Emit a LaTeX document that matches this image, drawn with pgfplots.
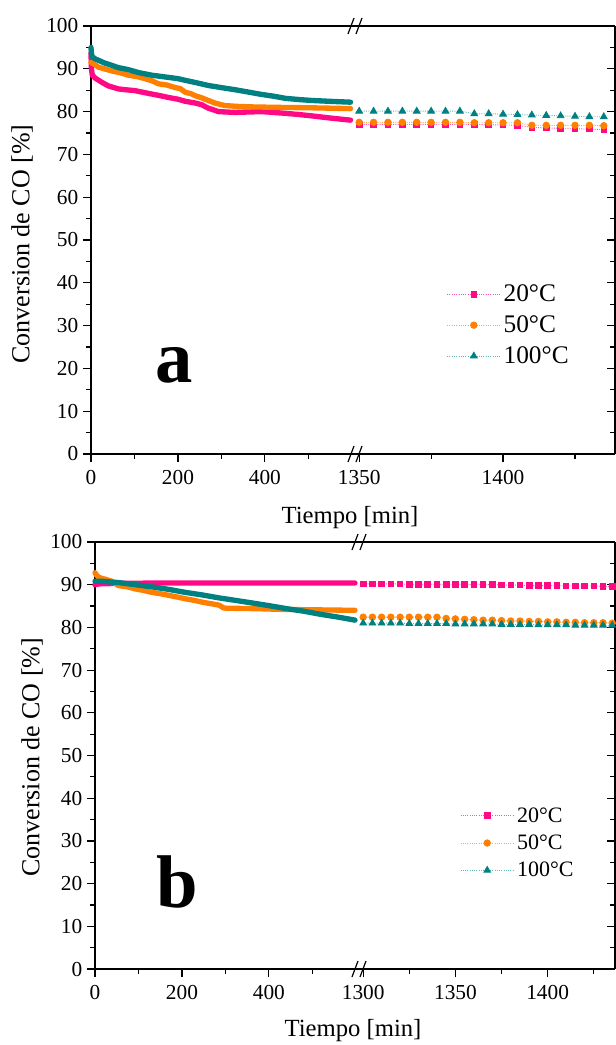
\documentclass[border=0pt]{standalone}
\usepackage{fontspec}
\setmainfont{Liberation Serif}
\usepackage{pgfplots}
\pgfplotsset{compat=1.18}
\usetikzlibrary{calc}
\definecolor{cpink}{HTML}{FF0A84}
\definecolor{corange}{HTML}{FF8000}
\definecolor{cteal}{HTML}{008080}

\pgfplotsset{
  brk/.style={
    scale only axis, anchor=south west, clip=false,
    ymin=0, ymax=100,
    ytick={0,10,...,100}, minor ytick={5,15,...,95},
    axis x line*=bottom,
    axis line style={-, line width=0.9pt},
    every tick/.style={black, line width=0.9pt},
    major tick length=6pt, minor tick length=3.5pt,
    xtick align=outside,
    tick label style={font=\fontsize{16}{18}\selectfont},
    xticklabel style={yshift=-2.5pt},
    /pgf/number format/assume math mode=true,
    /pgf/number format/1000 sep={},
    legend cell align=left,
    legend image code/.code={\draw[mark repeat=2,mark phase=2,#1] plot coordinates {(0pt,0pt) (20pt,0pt) (40pt,0pt)};},
  },
  leftax/.style={brk, axis y line*=left, ytick align=outside, xmin=0, xmax=605,
    xtick={0,200,400}, minor xtick={100,300,500}},
  rightax/.style={brk, axis y line*=right, ytick align=inside, yticklabels={}},
  tl/.style={line width=4pt, no marks, line join=round, line cap=round},
  rp/.style={densely dotted, line width=0.7pt, draw=cpink!70, mark=square*, mark size=2.1pt, mark options={solid, fill=cpink, draw=cpink}},
  ro/.style={densely dotted, line width=0.7pt, draw=corange!70, mark=*, mark size=2.4pt, mark options={solid, fill=corange, draw=corange}},
  rt/.style={densely dotted, line width=0.7pt, draw=cteal!60, mark=triangle*, mark size=2.8pt, mark options={solid, fill=cteal, draw=cteal}},
}

\begin{document}
\begin{tikzpicture}
% ---------------- Panel a ----------------
\begin{axis}[leftax, at={(68.25pt,-340.5pt)}, width=197.25pt, height=321pt]
\draw[line width=0.9pt] (rel axis cs:0,1) -- (rel axis cs:1,1);
\addplot[tl, cpink] coordinates {(0,93.7)(1,90)(3,88.5)(10,87.8)(24,86.9)(40,86.0)(63,85.3)(80,85.1)(101,84.9)(120,84.5)(140,84.1)(160,83.7)(178,83.3)(200,82.9)(217,82.4)(240,82.0)(255,81.6)(262,81.2)(270,80.8)(285,80.3)(293,80.0)(332,79.8)(360,79.9)(393,80.0)(420,79.8)(447,79.6)(480,79.3)(508,79.0)(550,78.5)(597,78.0)};
\addplot[tl, corange] coordinates {(0,91.5)(10,90.9)(17,90.4)(30,90.0)(48,89.5)(70,89.0)(86,88.5)(105,88.2)(124,87.7)(140,87.2)(155,86.5)(175,86.2)(194,85.6)(205,85.4)(217,84.5)(230,84.2)(240,83.7)(255,83.2)(270,82.6)(285,82.0)(300,81.6)(309,81.4)(340,81.2)(370,81.1)(420,81.0)(500,80.9)(550,80.8)(597,80.7)};
\addplot[tl, cteal] coordinates {(0,95.0)(1,93.5)(3,92.8)(10,92.3)(17,92.0)(30,91.4)(48,90.8)(62,90.3)(86,89.8)(110,89.1)(140,88.5)(170,88.1)(200,87.7)(217,87.3)(240,86.8)(270,86.1)(300,85.6)(332,85.1)(360,84.6)(393,84.0)(420,83.6)(447,83.1)(480,82.8)(508,82.6)(550,82.4)(597,82.2)};
\node[anchor=base, font=\fontsize{56}{56}\selectfont\bfseries] at (axis cs:192,16.8) {a};
\end{axis}
\begin{axis}[rightax, at={(265.5pt,-340.5pt)}, width=195.75pt, height=321pt,
  xmin=1348.2, xmax=1438.9, xtick={1350,1400}, minor xtick={1375,1425},
  legend style={at={(0.594,0.301)}, anchor=center, draw=none, fill=none, font=\fontsize{19}{22}\selectfont, row sep=5pt}]
\draw[line width=0.9pt] (rel axis cs:0,1) -- (rel axis cs:1,1);
\addplot[rp] table {
1350 77.0
1355 77.0
1360 77.0
1365 77.0
1370 77.0
1375 77.0
1380 77.0
1385 77.0
1390 77.0
1395 76.9
1400 76.9
1405 76.8
1410 76.3
1415 76.2
1420 76.1
1425 76.0
1430 75.9
1435 75.8
};
\addplot[ro] table {
1350 77.5
1355 77.5
1360 77.5
1365 77.5
1370 77.5
1375 77.5
1380 77.5
1385 77.5
1390 77.4
1395 77.4
1400 77.4
1405 77.4
1410 76.8
1415 76.8
1420 76.8
1425 76.8
1430 76.8
1435 76.7
};
\addplot[rt] table {
1350 80.1
1355 80.1
1360 80.1
1365 80.1
1370 80.1
1375 80.1
1380 80.1
1385 80.1
1390 79.5
1395 79.5
1400 79.4
1405 79.3
1410 79.2
1415 79.1
1420 79.0
1425 78.9
1430 78.8
1435 78.8
};
\legend{20°C,50°C,100°C}
\end{axis}
% break marks a
\foreach \yy in {-340.5pt,-19.5pt}{
  \draw[line width=0.9pt] ($(261pt,\yy)+(0,-6pt)$) -- ++(4.5pt,12pt);
  \draw[line width=0.9pt] ($(267pt,\yy)+(0,-6pt)$) -- ++(4.5pt,12pt);
}
\node[font=\fontsize{18.5}{22}\selectfont] at (262.5pt,-388.5pt) {Tiempo [min]};
\node[rotate=90, font=\fontsize{19.5}{22}\selectfont] at (16.5pt,-183pt) {Conversion de CO [\%]};

% ---------------- Panel b ----------------
\begin{axis}[leftax, at={(71.25pt,-726.75pt)}, width=197.25pt, height=320.25pt]
\draw[line width=0.9pt] (rel axis cs:0,1) -- (rel axis cs:1,1);
\addplot[tl, cpink] coordinates {(0,90.0)(10,90.2)(50,90.3)(150,90.4)(300,90.4)(450,90.4)(598,90.4)};
\addplot[tl, corange] coordinates {(0,92.8)(3,92.3)(8,91.8)(15,91.5)(23,91.3)(39,90.8)(54,89.8)(75,89.5)(93,89.0)(110,88.7)(131,88.2)(150,87.9)(170,87.5)(190,87.1)(208,86.7)(230,86.3)(247,85.9)(270,85.5)(286,85.2)(295,84.6)(301,84.5)(363,84.4)(440,84.2)(520,84.1)(598,84.0)};
\addplot[tl, cteal] coordinates {(0,90.8)(15,90.8)(54,90.5)(93,90.0)(131,89.5)(170,88.9)(208,88.2)(247,87.6)(286,86.9)(325,86.3)(363,85.7)(400,85.1)(440,84.4)(480,83.8)(517,83.1)(560,82.4)(598,81.7)};
\node[anchor=base, font=\fontsize{56}{56}\selectfont\bfseries] at (axis cs:190,14.3) {b};
\end{axis}
\begin{axis}[rightax, at={(268.5pt,-726.75pt)}, width=192.75pt, height=320.25pt,
  xmin=1297.2, xmax=1436.5, xtick={1300,1350,1400}, minor xtick={1325,1375,1425},
  legend style={at={(0.623,0.295)}, anchor=center, draw=none, fill=none, font=\fontsize{16.5}{19}\selectfont, row sep=4pt}]
\draw[line width=0.9pt] (rel axis cs:0,1) -- (rel axis cs:1,1);
\addplot[rp] table {
1300 90.2
1305 90.2
1310 90.2
1315 90.2
1320 90.2
1325 90.1
1330 90.1
1335 90.1
1340 90.1
1345 90.1
1350 90.0
1355 90.0
1360 90.0
1365 90.0
1370 90.0
1375 89.9
1380 89.9
1385 89.9
1390 89.8
1395 89.8
1400 89.8
1405 89.8
1410 89.7
1415 89.7
1420 89.7
1425 89.7
1430 89.6
1435 89.6
};
\addplot[ro] table {
1300 82.4
1305 82.4
1310 82.4
1315 82.4
1320 82.4
1325 82.4
1330 82.4
1335 82.4
1340 82.4
1345 82.1
1350 82.0
1355 81.9
1360 81.8
1365 81.7
1370 81.7
1375 81.6
1380 81.5
1385 81.5
1390 81.4
1395 81.4
1400 81.3
1405 81.3
1410 81.2
1415 81.2
1420 81.1
1425 81.1
1430 81.1
1435 81.0
};
\addplot[rt] table {
1300 81.0
1305 81.0
1310 81.0
1315 81.0
1320 81.0
1325 80.9
1330 80.9
1335 80.9
1340 80.9
1345 80.9
1350 80.8
1355 80.8
1360 80.8
1365 80.8
1370 80.8
1375 80.7
1380 80.7
1385 80.7
1390 80.7
1395 80.6
1400 80.6
1405 80.6
1410 80.6
1415 80.5
1420 80.5
1425 80.5
1430 80.5
1435 80.5
};
\legend{20°C,50°C,100°C}
\end{axis}
\foreach \yy in {-726.75pt,-406.5pt}{
  \draw[line width=0.9pt] ($(264pt,\yy)+(0,-6pt)$) -- ++(4.5pt,12pt);
  \draw[line width=0.9pt] ($(270pt,\yy)+(0,-6pt)$) -- ++(4.5pt,12pt);
}
\node[font=\fontsize{18.5}{22}\selectfont] at (264.75pt,-773.25pt) {Tiempo [min]};
\node[rotate=90, font=\fontsize{19.5}{22}\selectfont] at (24pt,-568pt) {Conversion de CO [\%]};

\pgfresetboundingbox
\path[use as bounding box] (0pt,0pt) rectangle (462pt,-783.75pt);
\end{tikzpicture}
\end{document}
